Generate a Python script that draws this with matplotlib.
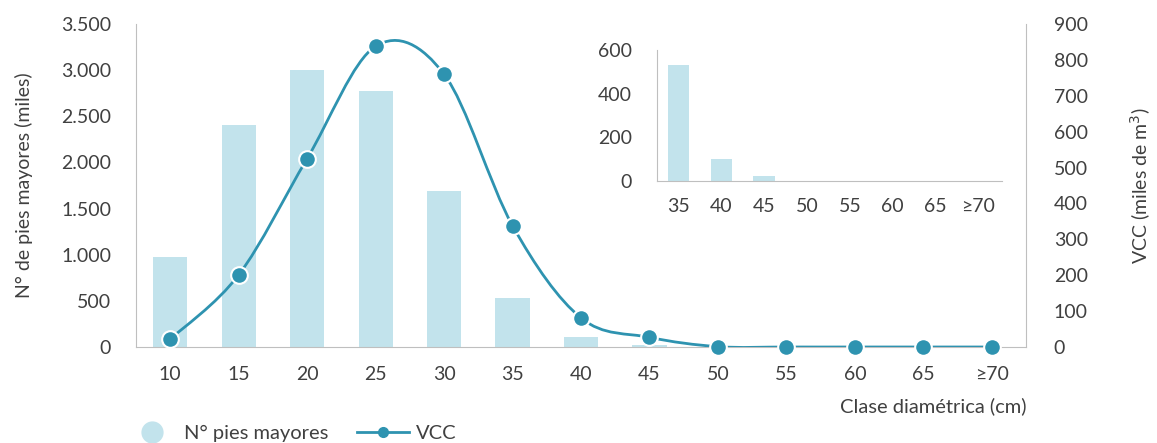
import numpy as np
import matplotlib
matplotlib.use("Agg")
import matplotlib.pyplot as plt
from matplotlib.path import Path
from matplotlib.patches import PathPatch
from matplotlib.lines import Line2D
from matplotlib.ticker import FuncFormatter, MultipleLocator

plt.rcParams['font.family'] = ['Lato', 'DejaVu Sans']

BAR_COLOR = "#C2E3EC"
LINE_COLOR = "#2E93B0"
TEXT_COLOR = "#404040"
SPINE_COLOR = "#BFBFBF"

clases = ["10", "15", "20", "25", "30", "35", "40", "45", "50", "55", "60", "65", "≥70"]
pies = [980, 2410, 3000, 2770, 1690, 532, 103, 24, 2, 1, 0.5, 0, 0]
vcc = [22, 201, 525, 838, 760, 338, 81, 27, 1, 0, 0, 0, 0]

inset_start = 5  # desde la clase 35


def smooth_path(xs, ys):
    # curva suavizada tipo Excel (Bezier con tangentes Catmull-Rom)
    pts = np.column_stack([xs, ys]).astype(float)
    verts = [pts[0]]
    codes = [Path.MOVETO]
    n = len(pts)
    for i in range(n - 1):
        p0 = pts[i - 1] if i > 0 else pts[i]
        p1 = pts[i]
        p2 = pts[i + 1]
        p3 = pts[i + 2] if i + 2 < n else pts[i + 1]
        c1 = p1 + (p2 - p0) / 6
        c2 = p2 - (p3 - p1) / 6
        verts += [c1, c2, p2]
        codes += [Path.CURVE4] * 3
    return Path(verts, codes)


fig = plt.figure(figsize=(11.57, 4.43), dpi=100)
ax = fig.add_axes([136/1157, 1-347/443, 890/1157, 323/443])
x = np.arange(len(clases))

ax.bar(x, pies, width=0.5, color=BAR_COLOR, zorder=2)
ax.set_xlim(-0.5, len(clases) - 0.5)
ax.set_ylim(0, 3500)
ax.yaxis.set_major_locator(MultipleLocator(500))
ax.yaxis.set_major_formatter(FuncFormatter(lambda v, p: f"{int(v):,}".replace(",", ".")))
ax.set_xticks(x)
ax.set_xticklabels(clases)
ax.tick_params(length=0, labelsize=14, colors=TEXT_COLOR, pad=18)
ax.tick_params(axis='x', pad=14)
for s in ["top", "right"]:
    ax.spines[s].set_visible(False)
for s in ["left", "bottom"]:
    ax.spines[s].set_color(SPINE_COLOR)
ax.set_ylabel("N° de pies mayores (miles)", fontsize=14, color=TEXT_COLOR, labelpad=20)
ax.set_xlabel("Clase diamétrica (cm)", fontsize=14.5, color=TEXT_COLOR, loc="right", labelpad=10)

ax2 = ax.twinx()
ax2.set_ylim(0, 900)
ax2.yaxis.set_major_locator(MultipleLocator(100))
ax2.tick_params(length=0, labelsize=14, colors=TEXT_COLOR, pad=20)
for s in ["top", "left", "bottom"]:
    ax2.spines[s].set_visible(False)
ax2.spines["right"].set_color(SPINE_COLOR)
ax2.set_ylabel("VCC (miles de m$^3$)", fontsize=14, color=TEXT_COLOR, labelpad=29)

ax2.add_patch(PathPatch(smooth_path(x, vcc), facecolor="none", edgecolor=LINE_COLOR,
                        lw=2, zorder=3))
ax2.plot(x, vcc, linestyle="none", marker="o", markersize=12, markerfacecolor=LINE_COLOR,
         markeredgecolor="white", markeredgewidth=1.5, zorder=4, clip_on=False)

# detalle de las clases mayores
ins = fig.add_axes([657/1157, 1-181/443, 345/1157, 131/443])
xi = np.arange(len(clases) - inset_start)
ins.bar(xi, pies[inset_start:], width=0.5, color=BAR_COLOR)
ins.set_xlim(-0.5, len(xi) - 0.45)
ins.set_ylim(0, 600)
ins.yaxis.set_major_locator(MultipleLocator(200))
ins.set_xticks(xi)
ins.set_xticklabels(clases[inset_start:])
ins.tick_params(length=0, labelsize=14, colors=TEXT_COLOR)
ins.tick_params(axis='y', pad=18)
ins.tick_params(axis='x', pad=12)
ins.patch.set_visible(False)
for s in ["top", "right"]:
    ins.spines[s].set_visible(False)
for s in ["left", "bottom"]:
    ins.spines[s].set_color(SPINE_COLOR)

handles = [
    Line2D([], [], linestyle="none", marker="o", markersize=15, color=BAR_COLOR),
    Line2D([], [], color=LINE_COLOR, lw=2, marker="o", markersize=7),
]
fig.legend(handles, ["N° pies mayores", "VCC"], loc="center left",
           bbox_to_anchor=(112/1157, 1-433/443), ncol=2, frameon=False,
           fontsize=14.5, labelcolor=TEXT_COLOR, handlelength=2.6, handletextpad=0.3,
           columnspacing=1.4, borderpad=0.2)

fig.savefig("out.png", dpi=100)
